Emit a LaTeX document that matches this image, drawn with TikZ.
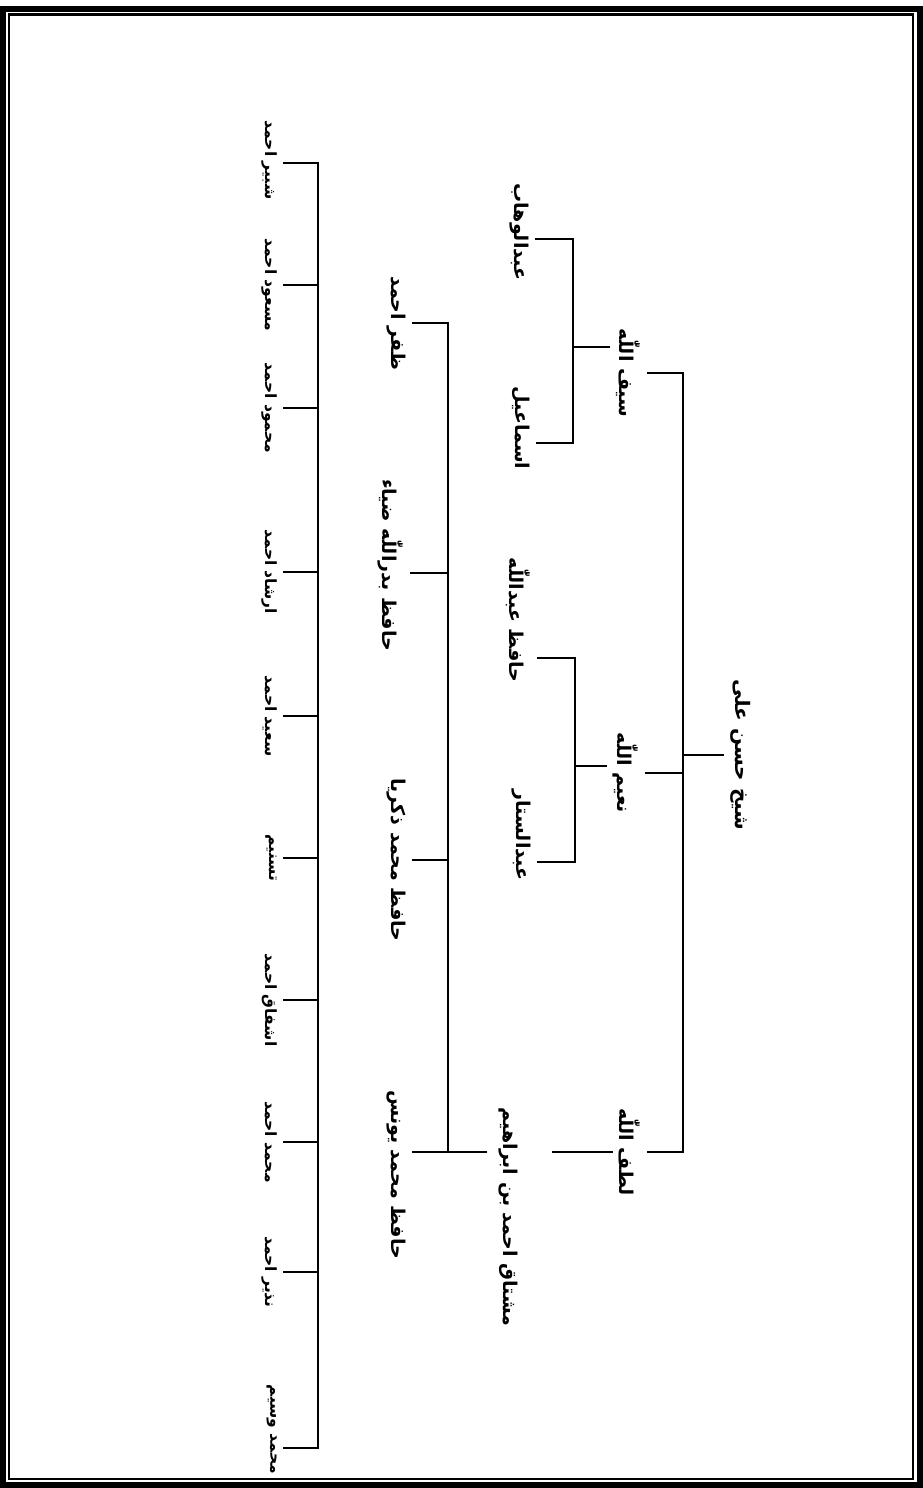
\documentclass[tikz,border=0pt]{standalone}
\usepackage{fontspec}
\newfontfamily\urdufont[Script=Arabic]{DejaVu Sans}
\TeXXeTstate=1
\newcommand{\nm}[1]{\beginR #1\endR}

\begin{document}
\begin{tikzpicture}[x=1pt, y=-1pt,
  person/.style={rotate=-90, inner xsep=2pt, inner ysep=6pt, font=\urdufont\bfseries\fontsize{19}{23}\selectfont},
  small/.style={font=\urdufont\bfseries\fontsize{15.5}{19}\selectfont},
  link/.style={line width=2.6pt}]
\useasboundingbox (0,0) rectangle (923,1488);

% page frame
\draw[line width=6pt] (3,9) rectangle (920,1485);
\draw[line width=2.5pt] (9,14.5) rectangle (913,1479);

% root
\node[person, anchor=south, font=\urdufont\bfseries\fontsize{20}{24}\selectfont] (root) at (724,755) {\nm{شیخ حسن علی}};

% sons
\node[person, anchor=north] (saif) at (647,373) {\nm{سیف اللّٰه}};
\node[person, anchor=north] (nayeem) at (645,773) {\nm{نعیم اللّٰه}};
\node[person, anchor=north] (lutf) at (647,1152) {\nm{لطف اللّٰه}};

% grandsons
\node[person, anchor=north] (wahab) at (535,232) {\nm{عبدالوهاب}};
\node[person, anchor=north] (ismail) at (536,428) {\nm{اسماعیل}};
\node[person, anchor=north] (hafizabd) at (537,620) {\nm{حافظ عبداللّٰه}};
\node[person, anchor=north] (sattar) at (537,835) {\nm{عبدالستار}};
\node[person] (mushtaq) at (508,1217) {\nm{مشتاق احمد بن ابراهیم}};

% third generation
\node[person, anchor=north] (zafar) at (412,323) {\nm{ظفر احمد}};
\node[person, anchor=north] (badr) at (410,565) {\nm{حافظ بدراللّٰه ضیاء}};
\node[person, anchor=north] (zakariya) at (412,860) {\nm{حافظ محمد ذکریا}};
\node[person, anchor=north west] (younis) at (412,1088) {\nm{حافظ محمد یونس}};

% fourth generation
\node[person, small, anchor=north] (shabbir) at (283,160) {\nm{شبیر احمد}};
\node[person, small, anchor=north] (masood) at (283,285) {\nm{مسعود احمد}};
\node[person, small, anchor=north] (mahmood) at (283,408) {\nm{محمود احمد}};
\node[person, small, anchor=north] (irshad) at (283,572) {\nm{ارشاد احمد}};
\node[person, small, anchor=north] (saeed) at (283,716) {\nm{سعید احمد}};
\node[person, small, anchor=north] (tasneem) at (283,858) {\nm{تسنیم}};
\node[person, small, anchor=north] (ashfaq) at (283,1000) {\nm{اشفاق احمد}};
\node[person, small, anchor=north] (muhammad) at (283,1142) {\nm{محمد احمد}};
\node[person, small, anchor=north] (nazir) at (283,1272) {\nm{نذیر احمد}};
\node[person, small, anchor=north east] (waseem) at (283,1476) {\nm{محمد وسیم}};

% bracket spines
\coordinate (s1) at (683,755);
\coordinate (s2a) at (573,347);
\coordinate (s2b) at (575,766);
\coordinate (m1) at (552,1152);
\coordinate (m2) at (487,1152);
\coordinate (s3) at (448,1152);
\coordinate (s4) at (318,163);
\coordinate (s4end) at (318,1448);

\draw[link] (root.south) -- (s1);
\draw[link] (saif.north) -| (s1) |- (lutf.north);
\draw[link] (nayeem.north) -- (nayeem.north -| s1);

\draw[link] (saif.south |- s2a) -- (s2a);
\draw[link] (wahab.north |- 0,239) -| (s2a) |- (ismail.north |- 0,443);
\draw[link] (nayeem.south |- s2b) -- (s2b);
\draw[link] (hafizabd.north |- 0,658) -| (s2b) |- (sattar.north |- 0,862);
\draw[link] (lutf.south) -- (m1);

\draw[link] (m2) -- (younis.north |- s3);
\draw[link] (zafar.north) -| (s3);
\draw[link] (badr.north |- 0,573) -- (s3 |- 0,573);
\draw[link] (zakariya.north) -- (zakariya.north -| s3);

\draw[link] (shabbir.north |- s4) -- (s4) -- (s4end) -- (s4end -| waseem.north);
\draw[link] (masood.north) -- (masood.north -| s4);
\draw[link] (mahmood.north) -- (mahmood.north -| s4);
\draw[link] (irshad.north) -- (irshad.north -| s4);
\draw[link] (saeed.north) -- (saeed.north -| s4);
\draw[link] (tasneem.north) -- (tasneem.north -| s4);
\draw[link] (ashfaq.north) -- (ashfaq.north -| s4);
\draw[link] (muhammad.north) -- (muhammad.north -| s4);
\draw[link] (nazir.north) -- (nazir.north -| s4);
\end{tikzpicture}
\end{document}
